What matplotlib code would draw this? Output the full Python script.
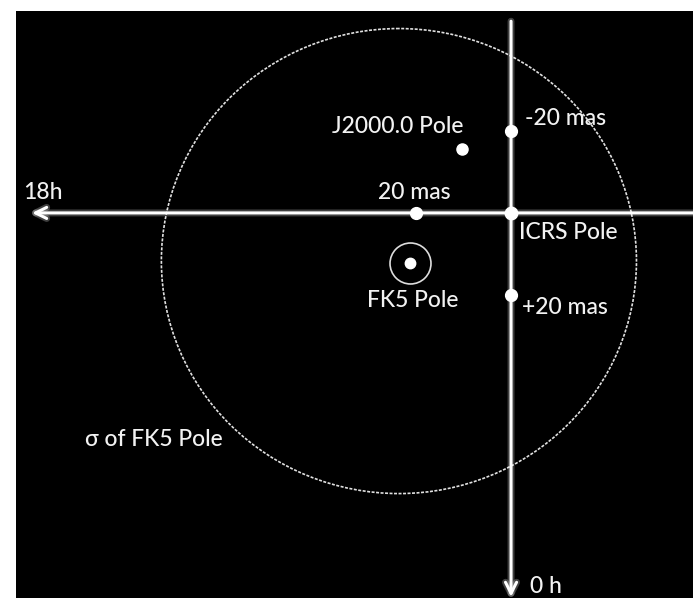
import matplotlib
matplotlib.use("Agg")
import matplotlib.pyplot as plt
from matplotlib.patches import Ellipse
import matplotlib.patheffects as pe

# ---- data (mas offsets from ICRS pole; x toward 18h, y toward 0h) ----
icrs_pole = (0.0, 0.0)
tick_x = [20.0, 0.0, 0.0]
tick_y = [0.0, -20.0, 20.0]
tick_labels = ["20 mas", "-20 mas", "+20 mas"]
j2000_pole = (10.3, -15.7)
fk5_pole = (21.3, 12.3)
sigma_center = (23.6, 11.8)
sigma_width = 100.0   # mas (x)
sigma_height = 114.0  # mas (y)
axis_ew = (-38.5, 100.8)   # horizontal axis extent, arrow at +end (18h)
axis_ns = (-47.0, 94.1)    # vertical axis extent, arrow at +end (0 h)
xlim = (104.2, -38.3)
ylim = (94.4, -49.5)

FONT = ["Lato", "DejaVu Sans"]
plt.rcParams['font.family'] = FONT

fig = plt.figure(figsize=(6.93, 5.98), dpi=100, facecolor="white")
ax = fig.add_axes([16 / 693, 0, 677 / 693, 587 / 598])
ax.set_facecolor("black")
ax.set_xlim(*xlim)
ax.set_ylim(*ylim)
for s in ax.spines.values():
    s.set_visible(False)
ax.set_xticks([])
ax.set_yticks([])

glow = [pe.withStroke(linewidth=5, foreground="white", alpha=0.25)]

# sigma circle
ell = Ellipse(sigma_center, sigma_width, sigma_height, fill=False,
              edgecolor="#e0e0e0", lw=1.2, linestyle=(0, (1.8, 0.9)))
ax.add_patch(ell)

# axes arrows
ax.annotate("", xy=(axis_ew[1], 0), xytext=(axis_ew[0], 0),
            arrowprops=dict(arrowstyle="->", lw=2.2, color="white",
                            mutation_scale=20, shrinkA=0, shrinkB=0,
                            path_effects=glow))
ax.annotate("", xy=(0, axis_ns[1]), xytext=(0, axis_ns[0]),
            arrowprops=dict(arrowstyle="->", lw=2.2, color="white",
                            mutation_scale=20, shrinkA=0, shrinkB=0,
                            path_effects=glow))

# points
ax.plot(tick_x, tick_y, "o", color="white", ms=8.5, mec="white", zorder=5)
ax.plot([icrs_pole[0]], [icrs_pole[1]], "o", color="white", ms=9, zorder=5)
ax.plot([j2000_pole[0]], [j2000_pole[1]], "o", color="white", ms=8, zorder=5)
ax.plot([fk5_pole[0]], [fk5_pole[1]], "o", color="white", ms=7.5, zorder=5)
ax.plot([fk5_pole[0]], [fk5_pole[1]], "o", mfc="none", mec="#dddddd",
        mew=1.2, ms=29.5, zorder=5)

fs = 16.5
tc = "#f2f2f2"
def lab(txt, xy, off, ha="left", size=fs):
    ax.annotate(txt, xy=xy, xytext=off, textcoords="offset pixels",
                ha=ha, va="baseline", color=tc, fontsize=size,
                fontweight="medium")

lab(tick_labels[0], (tick_x[0], tick_y[0]), (-2, 14), ha="center")
lab(tick_labels[1], (tick_x[1], tick_y[1]), (14, 6))
lab(tick_labels[2], (tick_x[2], tick_y[2]), (11, -19))
lab("J2000.0 Pole", j2000_pole, (1, 16), ha="right")
lab("ICRS Pole", icrs_pole, (8, -26))
lab("FK5 Pole", fk5_pole, (3, -44), ha="center")
lab("σ of FK5 Pole", sigma_center, (-314, -185))
lab("18h", (axis_ew[1], 0), (-9, 14))
ax.annotate("0 h", xy=(0, axis_ns[1]), xytext=(19, 0), textcoords="offset pixels",
            ha="left", va="bottom", color=tc, fontsize=fs, fontweight="medium")

fig.savefig("out.png", dpi=100, facecolor=fig.get_facecolor())
